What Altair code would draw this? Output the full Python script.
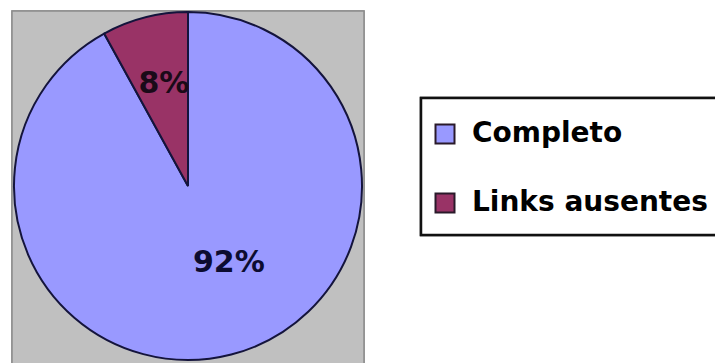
import altair as alt
import pandas as pd

categories = ["Completo", "Links ausentes"]
values = [92, 8]
colors = ["#9999ff", "#993366"]

df = pd.DataFrame({"category": categories, "value": values})

base = alt.Chart(df)

background = base.mark_rect(fill="#c0c0c0", stroke="#8c8c8c", strokeWidth=1.5).encode(
    x=alt.value(4), x2=alt.value(356), y=alt.value(3), y2=alt.value(362)
)

legend_box = base.mark_rect(fill="white", stroke="#111111", strokeWidth=2.5).encode(
    x=alt.value(413), x2=alt.value(740), y=alt.value(90), y2=alt.value(227)
)

theta_scale = alt.Scale(domain=[0, 100])

pie = base.mark_arc(radius=174, stroke="#14143c", strokeWidth=2).encode(
    theta=alt.Theta("value:Q", stack=True, scale=theta_scale),
    color=alt.Color(
        "category:N",
        scale=alt.Scale(domain=categories, range=colors),
        sort=categories,
        legend=alt.Legend(
            title=None,
            orient="none",
            legendX=423,
            legendY=112,
            direction="vertical",
            symbolType="square",
            symbolSize=361,
            symbolStrokeColor="#2a1a2a",
            symbolStrokeWidth=2,
            labelFont="DejaVu Sans",
            labelFontWeight="bold",
            labelFontSize=28,
            labelColor="black",
            labelOffset=13,
            labelLimit=500,
            rowPadding=41,
            padding=0,
        ),
    ),
    order=alt.Order("category:N"),
    x=alt.value(180),
    y=alt.value(178),
)

labels_base = base.transform_joinaggregate(
    total="sum(value)"
).transform_window(
    cum="sum(value)", sort=[alt.SortField("category")], frame=[None, 0]
).transform_calculate(
    mid="datum.cum - datum.value / 2",
    label="format(datum.value / datum.total, '.0%')",
)

label_big = labels_base.transform_filter(
    alt.datum.category == "Completo"
).mark_text(
    radius=80, dx=21, font="DejaVu Sans", fontWeight="bold", fontSize=30,
    color="#0c0c30", align="center", baseline="middle"
).encode(
    theta=alt.Theta("mid:Q", stack=None, scale=theta_scale),
    text="label:N",
    x=alt.value(180),
    y=alt.value(178),
)

label_small = labels_base.transform_filter(
    alt.datum.category == "Links ausentes"
).mark_text(
    radius=105, dx=2, font="DejaVu Sans", fontWeight="bold", fontSize=30,
    color="#1a0a18", align="center", baseline="middle"
).encode(
    theta=alt.Theta("mid:Q", stack=None, scale=theta_scale),
    text="label:N",
    x=alt.value(180),
    y=alt.value(178),
)

chart = alt.layer(background, legend_box, pie, label_big, label_small).properties(
    width=707,
    height=357,
    autosize=alt.AutoSizeParams(type="none"),
    padding=0,
    background="white",
).configure_view(stroke=None)

chart.save("out.html", embed_options={"renderer": "svg", "actions": False})
